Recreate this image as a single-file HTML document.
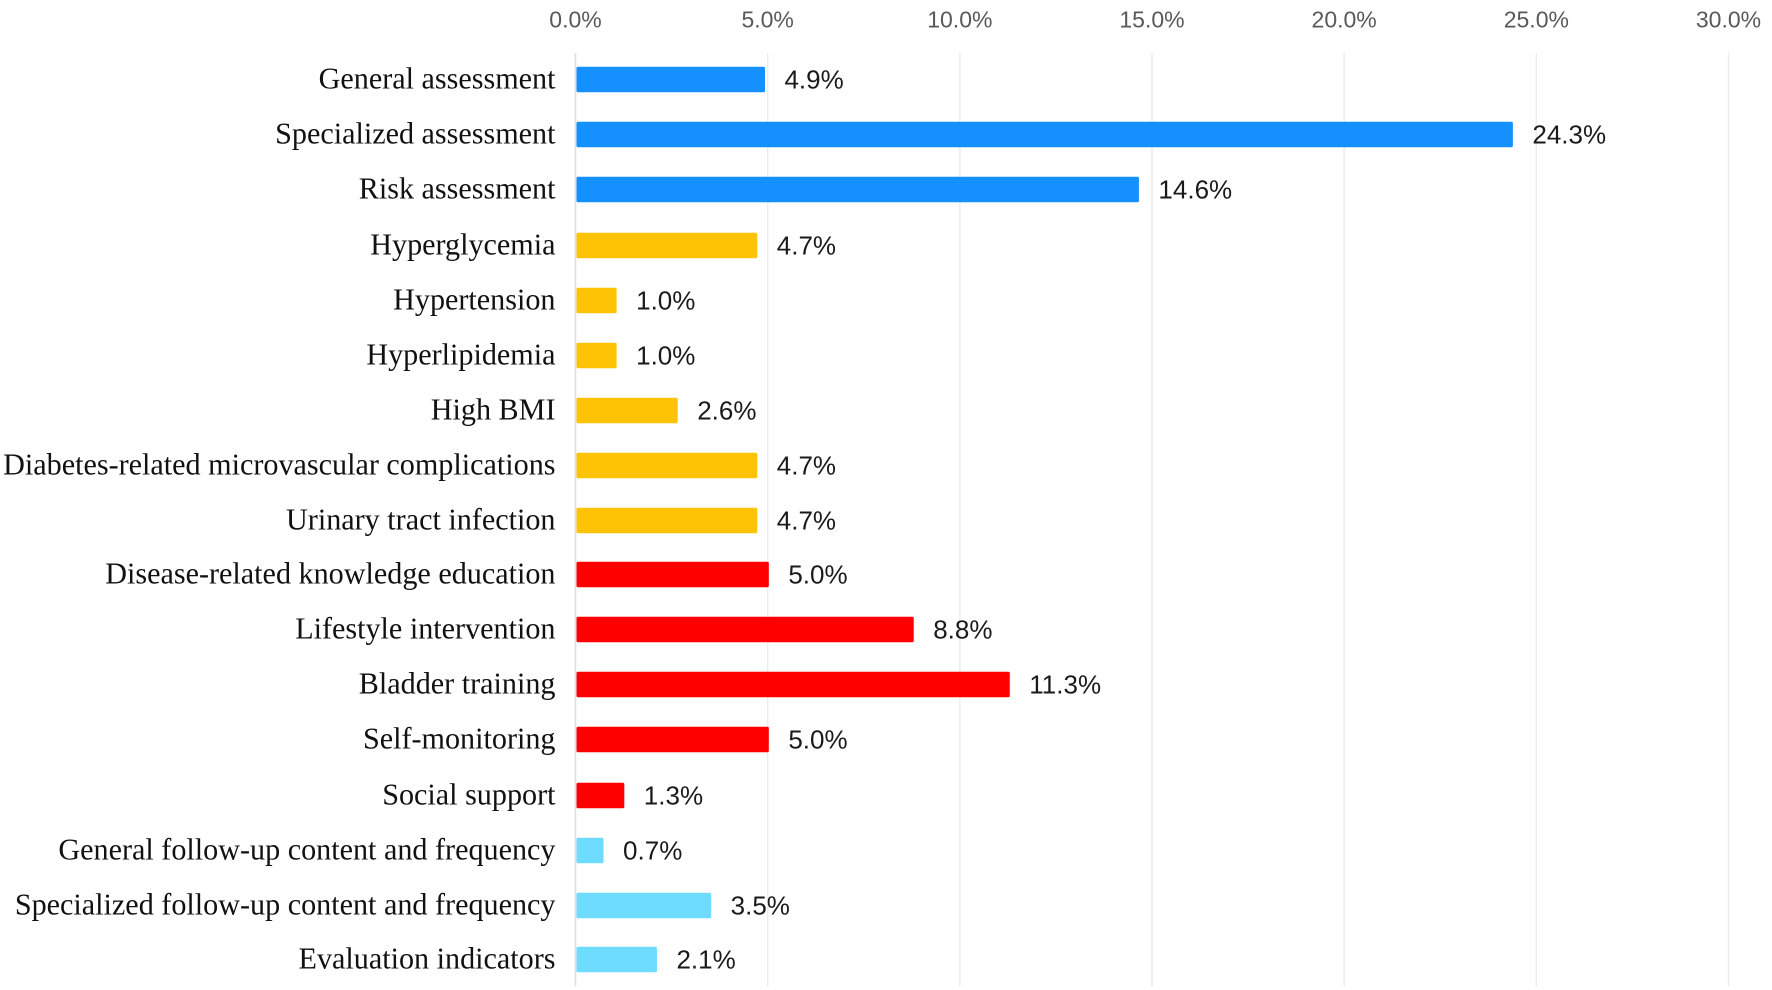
<!DOCTYPE html>
<html lang="en">
<head>
<meta charset="utf-8">
<title>Intervention content percentages</title>
<style>
html,body{margin:0;padding:0;background:#fff;width:1772px;height:990px;overflow:hidden}
svg{display:block}
.tick{font-family:"Liberation Sans",sans-serif;font-size:23px;fill:#595959;text-anchor:middle}
.cat{font-family:"Liberation Serif",serif;font-size:30.15px;fill:#111;text-anchor:end}
.val{font-family:"Liberation Sans",sans-serif;font-size:26px;fill:#1a1a1a}
</style>
</head>
<body>
<svg id="chart" width="1772" height="990" viewBox="0 0 1772 990" xmlns="http://www.w3.org/2000/svg"></svg>
<script>
const categories = ["General assessment","Specialized assessment","Risk assessment","Hyperglycemia","Hypertension","Hyperlipidemia","High BMI","Diabetes-related microvascular complications","Urinary tract infection","Disease-related knowledge education","Lifestyle intervention","Bladder training","Self-monitoring","Social support","General follow-up content and frequency","Specialized follow-up content and frequency","Evaluation indicators"];
const values = [4.93,24.39,14.66,4.73,1.07,1.07,2.66,4.73,4.73,5.03,8.8,11.3,5.03,1.27,0.73,3.53,2.12];
const valueLabels = ["4.9%","24.3%","14.6%","4.7%","1.0%","1.0%","2.6%","4.7%","4.7%","5.0%","8.8%","11.3%","5.0%","1.3%","0.7%","3.5%","2.1%"];
const groups = [0,0,0,1,1,1,1,1,1,2,2,2,2,2,3,3,3];
const groupColors = ["#1490FF","#FFC305","#FF0000","#6EDCFF"];
const xTicks = [0,5,10,15,20,25,30];

const svg = document.getElementById('chart');
const NS = 'http://www.w3.org/2000/svg';
function xScale(v){ return 575.5 + (v - 0) * (1728.5 - 575.5) / (30 - 0); }
function yBand(i){
  const base = 79.5 + i * (959.5 - 79.5) / (categories.length - 1);
  return base + ((i >= 3 && i <= 8) || (i >= 13 && i <= 15) ? 1 : 0);
}
function make(tag, attrs, text){
  const el = document.createElementNS(NS, tag);
  for (const k in attrs) el.setAttribute(k, attrs[k]);
  if (text !== undefined) el.textContent = text;
  svg.appendChild(el);
  return el;
}
xTicks.forEach(function(t){
  const grid = make('line', {x1:xScale(t), x2:xScale(t), y1:53, y2:986, stroke:t===0?'#dcdce6':'#ececec', 'stroke-width':1.5});
  
  
  const label = make('text', {x:xScale(t), y:27.5, class:'tick'}, t.toFixed(1) + '%');
  
  
});
categories.forEach(function(c, i){
  const cy = yBand(i);
  const slug = c.toLowerCase().replace(/[^a-z0-9]+/g, '-');
  const cat = make('text', {x:555.5, y:cy + 9, class:'cat'}, c);
  
  
  const bar = make('rect', {x:xScale(0) + 1, y:cy - 12.75, width:xScale(values[i]) - xScale(0) - 1, height:25.5, rx:1.5, fill:groupColors[groups[i]]});
  
  
  const val = make('text', {x:xScale(values[i]) + 19.5, y:cy + 9.2, class:'val'}, valueLabels[i]);
  
  
});
</script>
</body>
</html>
